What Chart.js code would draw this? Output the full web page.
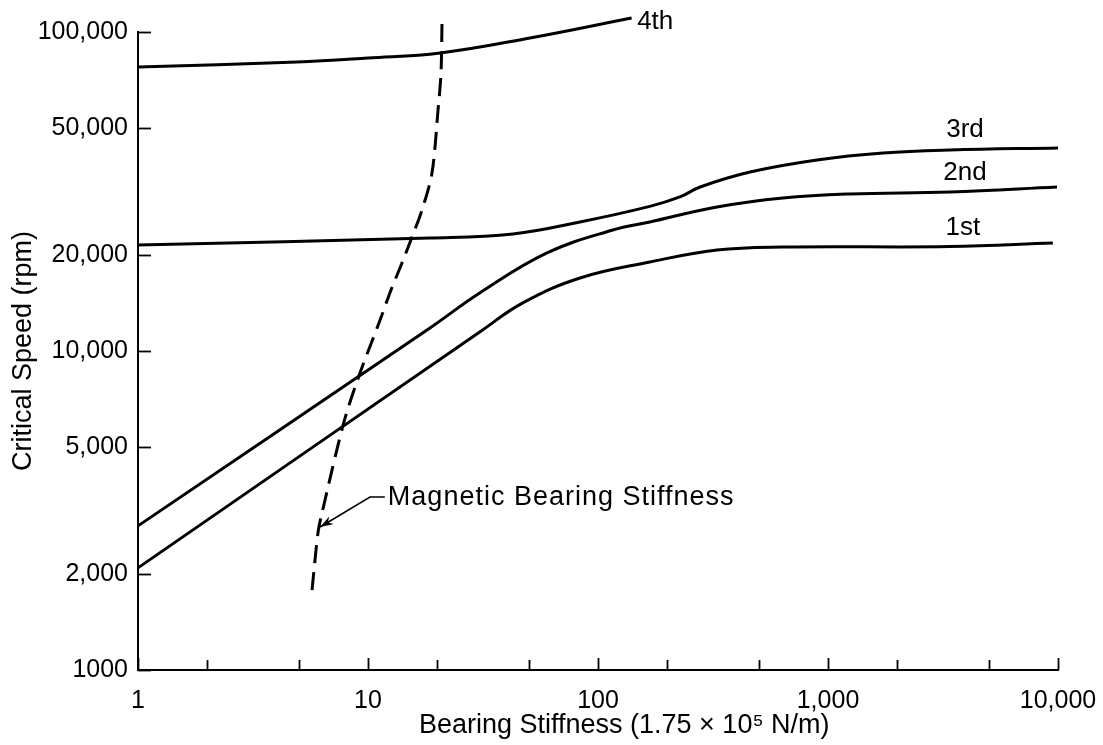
<!DOCTYPE html>
<html>
<head>
<meta charset="utf-8">
<title>Critical Speed vs Bearing Stiffness</title>
<script src="https://cdn.jsdelivr.net/npm/chart.js@4.4.1/dist/chart.umd.min.js"></script>
<style>
  html, body { margin: 0; padding: 0; background: #fff; }
</style>
</head>
<body>
<canvas id="speedChart" width="1103" height="745"></canvas>
<script>
// Bearing stiffness (x) and critical speed in rpm (y)
const mode1X = [1, 30.6, 47.1, 83.5, 168, 329, 637, 3390, 9500];
const mode1Y = [2090, 11470, 14150, 16940, 19010, 20730, 21180, 21250, 21800];

const mode2X = [1, 18.6, 30.6, 60, 116, 168, 329, 637, 1246, 3390, 9900];
const mode2Y = [2830, 11810, 15200, 20290, 23950, 25380, 28280, 30180, 31060, 31510, 32670];

const mode3X = [1, 18.6, 42.7, 83.5, 168, 227, 278, 458, 896, 1734, 3390, 10000];
const mode3Y = [21490, 22610, 23280, 25380, 28400, 30400, 32670, 36400, 39700, 41750, 42670, 43290];

const mode4X = [1, 4.91, 10, 20.6, 50.6, 140];
const mode4Y = [77670, 80530, 82900, 85960, 95760, 110650];

// magnetic bearing stiffness (dashed)
const magX = [5.71, 6.06, 6.31, 7.86, 9.23, 11.16, 12.59, 14.05, 15.54, 17.17, 18.98, 20.16, 20.77, 20.98];
const magY = [1781, 2689, 3106, 5990, 8531, 12240, 15535, 18875, 22780, 27670, 36140, 56950, 74360, 107500];

// axis ticks
const xTickValues = [1, 2, 5, 10, 20, 50, 100, 200, 500, 1000, 2000, 5000, 10000];
const xMajorValues = [1, 10, 100, 1000, 10000];
const xMajorLabels = ['1', '10', '100', '1,000', '10,000'];
const yTickValues = [1000, 2000, 5000, 10000, 20000, 50000, 100000];
const yTickLabels = ['1000', '2,000', '5,000', '10,000', '20,000', '50,000', '100,000'];

// curve names and where they sit (data units)
const modeNames = ['1st', '2nd', '3rd', '4th'];
const modeNameX = [3860, 3940, 3940, 148];
const modeNameY = [24300, 36140, 49300, 107500];

// callout for the dashed curve: text anchor, elbow, arrow tip
const noteText = 'Magnetic Bearing Stiffness';
const noteX = [12.2, 10.2, 6.19];
const noteY = [3485, 3485, 2807];

const FONT = "'Liberation Sans', Arial, Helvetica, sans-serif";

function toPoints(xs, ys) {
    return xs.map((v, i) => ({ x: v, y: ys[i] }));
}

function curve(label, xs, ys) {
    return {
        label: label,
        data: toPoints(xs, ys),
        borderColor: '#000',
        borderWidth: 3,
        pointRadius: 0,
        fill: false,
        tension: 0.4,
        clip: false
    };
}

// inner tick marks, curve names and the callout arrow
const overlay = {
    id: 'overlay',
    afterDraw(chart) {
        const ctx = chart.ctx;
        const x = chart.scales.x;
        const y = chart.scales.y;
        ctx.save();
        ctx.strokeStyle = '#000';
        ctx.fillStyle = '#000';
        ctx.lineWidth = 1.8;

        x.ticks.forEach(t => {
            const px = Math.round(x.getPixelForValue(t.value)) + 0.5;
            const len = xMajorValues.includes(t.value) ? 12 : 10;
            ctx.beginPath();
            ctx.moveTo(px, y.bottom);
            ctx.lineTo(px, y.bottom - len);
            ctx.stroke();
        });
        y.ticks.forEach(t => {
            const py = Math.round(y.getPixelForValue(t.value)) + 0.5;
            ctx.beginPath();
            ctx.moveTo(x.left, py);
            ctx.lineTo(x.left + 13, py);
            ctx.stroke();
        });

        // mode labels
        ctx.font = '26px ' + FONT;
        ctx.textBaseline = 'middle';
        modeNames.forEach((name, i) => {
            ctx.textAlign = name === '4th' ? 'left' : 'center';
            ctx.fillText(name, x.getPixelForValue(modeNameX[i]), y.getPixelForValue(modeNameY[i]));
        });

        // callout
        const pts = noteX.map((v, i) => [x.getPixelForValue(v), y.getPixelForValue(noteY[i])]);
        ctx.lineWidth = 1.6;
        ctx.beginPath();
        ctx.moveTo(pts[0][0] - 3, pts[0][1]);
        ctx.lineTo(pts[1][0], pts[1][1]);
        ctx.lineTo(pts[2][0], pts[2][1]);
        ctx.stroke();
        const ang = Math.atan2(pts[2][1] - pts[1][1], pts[2][0] - pts[1][0]);
        const tip = pts[2];
        ctx.beginPath();
        ctx.moveTo(tip[0], tip[1]);
        ctx.lineTo(tip[0] - 14 * Math.cos(ang - 0.32), tip[1] - 14 * Math.sin(ang - 0.32));
        ctx.lineTo(tip[0] - 9 * Math.cos(ang), tip[1] - 9 * Math.sin(ang));
        ctx.lineTo(tip[0] - 14 * Math.cos(ang + 0.32), tip[1] - 14 * Math.sin(ang + 0.32));
        ctx.closePath();
        ctx.fill();

        ctx.textAlign = 'left';
        ctx.letterSpacing = '1px';
        ctx.font = '27px ' + FONT;
        ctx.fillText(noteText, pts[0][0], pts[0][1] + 1);
        ctx.restore();
    }
};

new Chart(document.getElementById('speedChart'), {
    type: 'line',
    data: {
        datasets: [
            curve('1st', mode1X, mode1Y),
            curve('2nd', mode2X, mode2Y),
            curve('3rd', mode3X, mode3Y),
            curve('4th', mode4X, mode4Y),
            Object.assign(curve('Magnetic Bearing Stiffness', magX, magY), {
                borderDash: [18, 9],
                tension: 0.3
            })
        ]
    },
    options: {
        responsive: false,
        animation: false,
        layout: { padding: { top: 32, right: 45, left: 0, bottom: 0 } },
        plugins: {
            legend: { display: false },
            tooltip: { enabled: false }
        },
        scales: {
            x: {
                type: 'logarithmic',
                position: 'bottom',
                min: 1,
                max: 10000,
                afterBuildTicks: scale => {
                    scale.ticks = xTickValues.map(v => ({ value: v }));
                },
                afterFit: scale => {
                    scale.height = 75;
                    scale.paddingLeft = 0;
                    scale.paddingRight = 0;
                },
                ticks: {
                    autoSkip: false,
                    maxRotation: 0,
                    padding: 16,
                    color: '#000',
                    font: { family: FONT, size: 25 },
                    callback: value => {
                        const i = xMajorValues.indexOf(value);
                        return i >= 0 ? xMajorLabels[i] : '';
                    }
                },
                grid: { drawOnChartArea: false, drawTicks: false },
                border: { display: true, color: '#000', width: 2 },
                title: {
                    display: true,
                    // leading spaces nudge the title right, as in the original figure
                    text: '\u00a0\u00a0\u00a0\u00a0\u00a0\u00a0\u00a0Bearing Stiffness (1.75 \u00d7 10\u2075 N/m)',
                    color: '#000',
                    font: { family: FONT, size: 27 },
                    padding: { top: 0, bottom: 3 }
                }
            },
            y: {
                type: 'logarithmic',
                min: 1000,
                max: 100000,
                afterBuildTicks: scale => {
                    scale.ticks = yTickValues.map(v => ({ value: v }));
                },
                afterFit: scale => {
                    scale.width = 138;
                    scale.paddingTop = 0;
                    scale.paddingBottom = 0;
                },
                ticks: {
                    autoSkip: false,
                    padding: 10,
                    color: '#000',
                    font: { family: FONT, size: 25 },
                    callback: value => {
                        const i = yTickValues.indexOf(value);
                        return i >= 0 ? yTickLabels[i] : '';
                    }
                },
                grid: { drawOnChartArea: false, drawTicks: false },
                border: { display: true, color: '#000', width: 2 },
                title: {
                    display: true,
                    text: 'Critical Speed (rpm)',
                    color: '#000',
                    font: { family: FONT, size: 27 },
                    padding: { top: 7, bottom: 0 }
                }
            }
        }
    },
    plugins: [overlay]
});
</script>
</body>
</html>
